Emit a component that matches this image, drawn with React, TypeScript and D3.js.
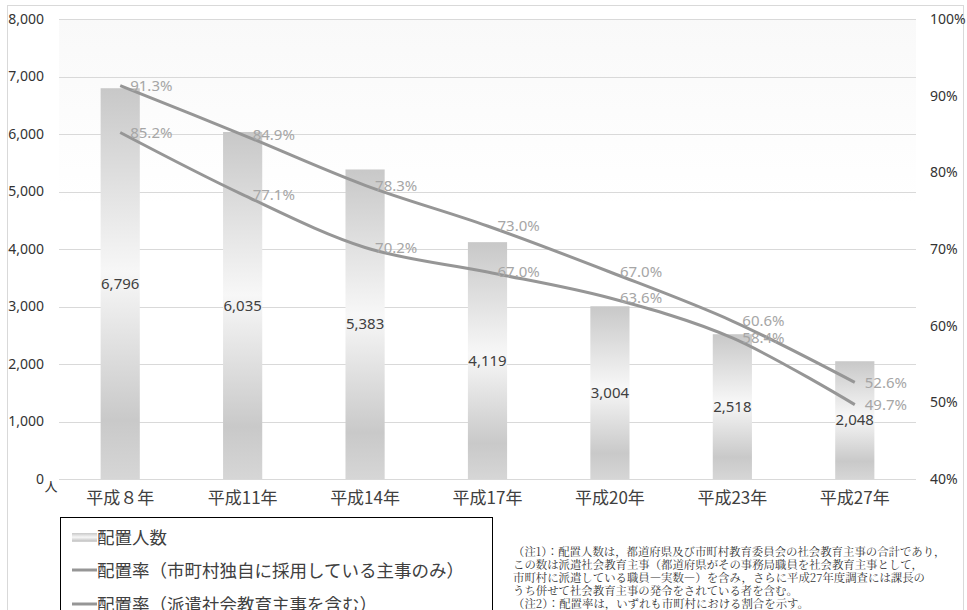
import React from "react";
import * as d3 from "d3";

const years = ["平成８年", "平成11年", "平成14年", "平成17年", "平成20年", "平成23年", "平成27年"];
const counts = [6796, 6035, 5383, 4119, 3004, 2518, 2048];
const rateOwn = [85.2, 77.1, 70.2, 67.0, 63.6, 58.4, 49.7];
const rateDispatch = [91.3, 84.9, 78.3, 73.0, 67.0, 60.6, 52.6];
const leftTicks = [0, 1000, 2000, 3000, 4000, 5000, 6000, 7000, 8000];
const rightTicks = [40, 50, 60, 70, 80, 90, 100];
const legendLabels = [
  "配置人数",
  "配置率（市町村独自に採用している主事のみ）",
  "配置率（派遣社会教育主事を含む）",
];
const notes = [
  "（注1）：配置人数は，都道府県及び市町村教育委員会の社会教育主事の合計であり，",
  "この数は派遣社会教育主事（都道府県がその事務局職員を社会教育主事として，",
  "市町村に派遣している職員―実数―）を含み，さらに平成27年度調査には課長の",
  "うち併せて社会教育主事の発令をされている者を含む。",
  "（注2）：配置率は，いずれも市町村における割合を示す。",
];

const W = 967;
const H = 610;
const plotL = 59;
const plotR = 916;
const plotT = 19;
const plotB = 479;

const numFont = "'Noto Sans', 'Noto Sans CJK JP', sans-serif";
const jpFont = "'Noto Sans CJK JP', 'Noto Sans', sans-serif";
const lineColor = "#969696";

export default function App() {
  const x = d3.scaleBand<string>().domain(years).range([plotL, plotR]).paddingInner(0.68).paddingOuter(0.34);
  const yL = d3.scaleLinear().domain([0, 8000]).range([plotB, plotT]);
  const yR = d3.scaleLinear().domain([40, 100]).range([plotB, plotT]);
  const cx = (i: number) => (x(years[i]) as number) + x.bandwidth() / 2;
  const line = d3
    .line<number>()
    .x((_, i) => cx(i))
    .y((d) => yR(d))
    .curve(d3.curveCardinal.tension(0));
  const fmt = d3.format(",");

  return (
    <div style={{ position: "absolute", left: 0, top: 0 }}>
      <svg width={W} height={H} style={{ display: "block" }}>
        <defs>
          <linearGradient id="barGrad" x1="0" y1="0" x2="0" y2="1">
            <stop offset="0" stopColor="#c8c8c8" />
            <stop offset="0.47" stopColor="#f7f7f7" />
            <stop offset="0.85" stopColor="#c9c9c9" />
            <stop offset="1" stopColor="#d6d6d6" />
          </linearGradient>
          <linearGradient id="bgGrad" x1="0" y1="0" x2="0" y2="1">
            <stop offset="0" stopColor="#f9f9f9" />
            <stop offset="0.4" stopColor="#ffffff" />
            <stop offset="1" stopColor="#ffffff" />
          </linearGradient>
        </defs>
        <rect x={0} y={0} width={W} height={H} fill="#fff" />
        <rect x={7.5} y={5.5} width={956} height={620} fill="#fff" stroke="#d9d9d9" />
        <rect x={plotL} y={plotT} width={plotR - plotL} height={plotB - plotT} fill="url(#bgGrad)" />
        {leftTicks.map((t) => (
          <line key={t} x1={plotL} x2={plotR} y1={Math.round(yL(t)) + 0.5} y2={Math.round(yL(t)) + 0.5} stroke="#d9d9d9" />
        ))}
        {leftTicks.map((t) => (
          <text key={t} x={44} y={yL(t)} dy="0.35em" textAnchor="end" fontSize={14} fontFamily={numFont} fill="#333">
            {fmt(t)}
          </text>
        ))}
        {rightTicks.map((t) => (
          <text key={t} x={930} y={yR(t)} dy="0.35em" textAnchor="start" fontSize={14} fontFamily={numFont} fill="#333">
            {t}%
          </text>
        ))}
        <text x={51} y={491} textAnchor="middle" fontSize={13} fontFamily={jpFont} fill="#333">人</text>
        {counts.map((c, i) => (
          <rect key={i} x={x(years[i])} y={yL(c)} width={x.bandwidth()} height={plotB - yL(c)} fill="url(#barGrad)" />
        ))}
        {counts.map((c, i) => (
          <text key={i} x={cx(i)} y={(yL(c) + plotB) / 2} dy="0.35em" textAnchor="middle" fontSize={15} fontFamily={numFont} fill="#404040">
            {fmt(c)}
          </text>
        ))}
        <path d={line(rateOwn) || ""} fill="none" stroke={lineColor} strokeWidth={3} />
        <path d={line(rateDispatch) || ""} fill="none" stroke={lineColor} strokeWidth={3} />
        {rateOwn.map((r, i) => (
          <text key={"o" + i} x={cx(i) + 10} y={yR(r)} dy="0.35em" fontSize={15} fontFamily={numFont} fill="#a6a6a6">
            {r.toFixed(1)}%
          </text>
        ))}
        {rateDispatch.map((r, i) => (
          <text key={"d" + i} x={cx(i) + 10} y={yR(r)} dy="0.35em" fontSize={15} fontFamily={numFont} fill="#a6a6a6">
            {r.toFixed(1)}%
          </text>
        ))}
        {years.map((yv, i) => (
          <text key={yv} x={cx(i)} y={498} dy="0.35em" textAnchor="middle" fontSize={17} fontFamily={jpFont} fill="#404040">
            {yv}
          </text>
        ))}
        <rect x={60.5} y={517.5} width={432} height={120} fill="#fff" stroke="#000" />
        <rect x={72} y={533} width={25} height={9} fill="url(#barGrad)" />
        <line x1={72} x2={97} y1={570} y2={570} stroke={lineColor} strokeWidth={3} />
        <line x1={72} x2={97} y1={604} y2={604} stroke={lineColor} strokeWidth={3} />
        {legendLabels.map((l, i) => (
          <text key={l} x={97} y={537.5 + i * 33.5} dy="0.35em" fontSize={17.5} fontFamily={jpFont} fill="#404040">
            {l}
          </text>
        ))}
        {notes.map((n, i) => (
          <text key={i} x={513} y={552 + i * 13} dy="0.35em" fontSize={11.4} fontFamily={"'Noto Serif CJK JP', 'Noto Sans CJK JP', serif"} fill="#333">
            {n}
          </text>
        ))}
      </svg>
    </div>
  );
}
